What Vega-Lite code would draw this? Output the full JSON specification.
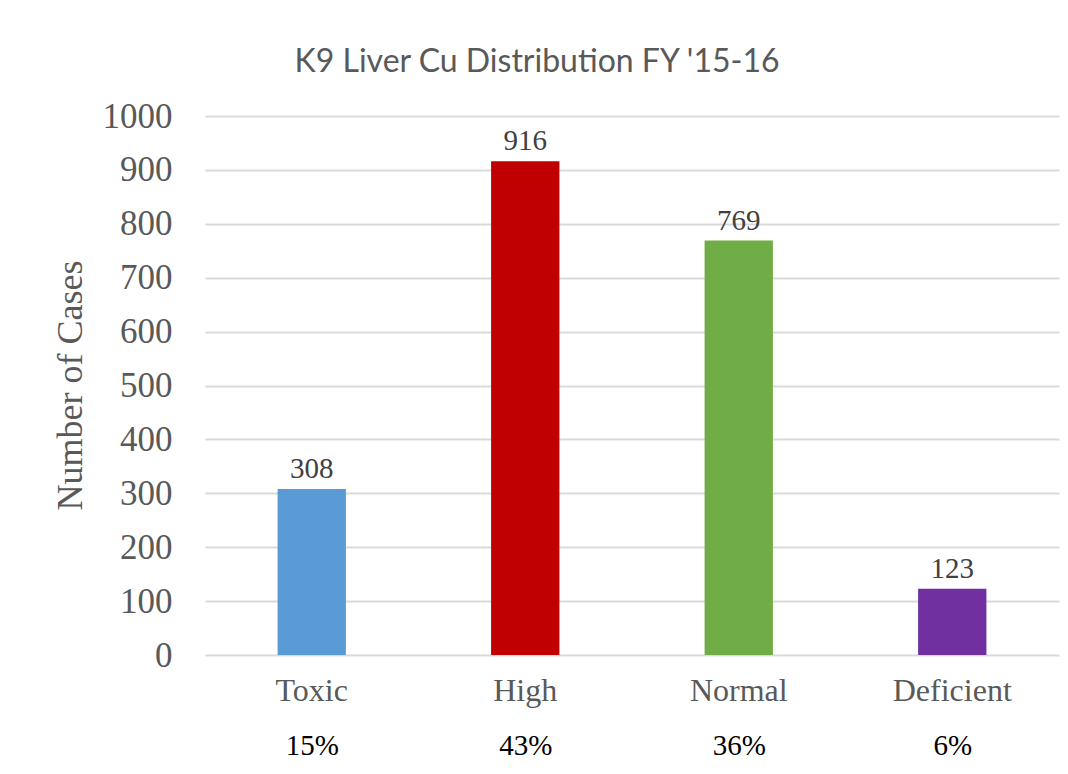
{
  "$schema": "https://vega.github.io/schema/vega-lite/v6.json",
  "autosize": "none",
  "width": 854,
  "height": 539,
  "padding": {"left": 205, "top": 116, "right": 9, "bottom": 119},
  "background": "white",
  "title": {
    "text": "K9 Liver Cu Distribution FY '15-16",
    "font": "Lato",
    "fontSize": 32,
    "fontWeight": "normal",
    "color": "#595959",
    "anchor": "middle",
    "dx": -95,
    "baseline": "alphabetic",
    "offset": -5
  },
  "data": {
    "values": [
      {"cat": "Toxic", "count": 308, "pct": "15%"},
      {"cat": "High", "count": 916, "pct": "43%"},
      {"cat": "Normal", "count": 769, "pct": "36%"},
      {"cat": "Deficient", "count": 123, "pct": "6%"}
    ]
  },
  "layer": [
    {
      "mark": {"type": "bar"},
      "encoding": {
        "x": {
          "field": "cat", "type": "nominal", "sort": null,
          "scale": {"paddingInner": 0.68, "paddingOuter": 0.34},
          "axis": {
            "orient": "bottom", "title": null, "labelAngle": 0, "domain": false, "ticks": false, "grid": false,
            "labelFont": "Liberation Serif", "labelFontSize": 32, "labelColor": "#595959",
            "labelBaseline": "middle", "labelPadding": 35
          }
        },
        "y": {
          "field": "count", "type": "quantitative",
          "scale": {"domain": [0, 1000]},
          "axis": {
            "values": [0, 100, 200, 300, 400, 500, 600, 700, 800, 900, 1000],
            "format": "d",
            "title": "Number of Cases", "domain": false, "ticks": false,
            "grid": true, "gridColor": "#d9d9d9", "gridWidth": 2,
            "labelFont": "Liberation Serif", "labelFontSize": 35, "labelColor": "#595959",
            "labelPadding": 33, "labelBaseline": "middle",
            "titleFont": "Liberation Serif", "titleFontSize": 36, "titleFontWeight": "normal",
            "titleColor": "#595959", "titleX": -135, "titleY": 269, "titleAngle": -90,
            "titleAlign": "center", "titleBaseline": "middle"
          }
        },
        "color": {
          "field": "cat", "type": "nominal", "sort": null, "legend": null,
          "scale": {"domain": ["Toxic", "High", "Normal", "Deficient"], "range": ["#5B9BD5", "#C00000", "#70AD47", "#7030A0"]}
        }
      }
    },
    {
      "mark": {"type": "text", "font": "Liberation Serif", "fontSize": 29, "color": "#404040", "baseline": "alphabetic", "dy": -11},
      "encoding": {
        "x": {
          "field": "pct", "type": "nominal", "sort": null,
          "scale": {"paddingInner": 0.68, "paddingOuter": 0.34},
          "axis": {
            "orient": "bottom", "title": null, "labelAngle": 0, "domain": false, "ticks": false, "grid": false,
            "labelFont": "Times New Roman, Liberation Serif, serif", "labelFontSize": 29, "labelColor": "#000000",
            "labelBaseline": "middle", "labelPadding": 90
          }
        },
        "y": {"field": "count", "type": "quantitative"},
        "text": {"field": "count", "type": "quantitative"}
      }
    }
  ],
  "resolve": {"scale": {"x": "independent"}, "axis": {"x": "independent"}},
  "config": {
    "font": "Liberation Serif",
    "view": {"stroke": null}
  }
}
